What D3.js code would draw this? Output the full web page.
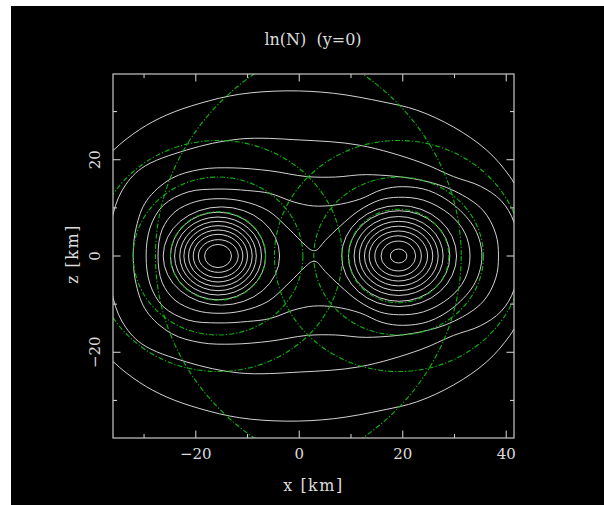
<!DOCTYPE html>
<html>
<head>
<meta charset="utf-8">
<script src="https://cdn.jsdelivr.net/npm/d3@7"></script>
<style>
  body { margin: 0; background: #fff; }
  text { font-family: "DejaVu Serif", "Liberation Serif", serif; fill: #dcdcdc; white-space: pre; }
</style>
</head>
<body>
<div id="chart"></div>
<script>
// axis ticks (km)
const xMajor = [-20, 0, 20, 40];
const xMinor = [-30, -10, 10, 30];
const zMajor = [-20, 0, 20];
const zMinor = [-30, -10, 10, 30];

// star centres on the x axis (km), z = 0
const starX = [-15.7, 19.2];

// closed rings round each star: distance to the outer side, inner side, and top (km)
const leftRingOut = [2.6, 3.8, 4.8, 5.7, 6.6, 7.4, 8.4, 9.2, 10.6];
const leftRingIn  = [2.6, 3.9, 4.8, 5.7, 6.6, 7.4, 8.4, 9.2, 11.9];
const leftRingTop = [2.4, 3.4, 4.5, 5.4, 6.3, 7.2, 8.1, 9.1, 10.2];
const rightRingIn  = [1.6, 3.4, 4.6, 5.7, 6.6, 7.6, 8.6, 9.7, 11.0];
const rightRingOut = [1.6, 3.3, 4.4, 5.6, 6.6, 7.65, 8.6, 9.9, 11.2];
const rightRingTop = [1.45, 3.1, 4.2, 5.2, 6.2, 7.2, 8.2, 9.4, 10.5];

// contours around both stars, upper half (x, z) in km, mirrored below
const contour1 = [[-44, 0], [-42.5, 11], [-39.5, 17.5], [-35.9, 22], [-30.8, 26.3], [-25.6, 29.3],
  [-19.2, 31.7], [-11.5, 33.6], [-2.4, 34.3], [6.6, 33.8], [16.2, 32.0], [22.7, 30.3],
  [29.8, 26.8], [36.2, 22.0], [40.7, 16.5], [44, 10], [45.5, 0]];
const contour2 = [[-37, 0], [-36.3, 7.3], [-34.3, 13.5], [-30.5, 18.2], [-21.8, 22.0], [-11.5, 24.3],
  [0.1, 24.1], [11.7, 23.0], [23.3, 19.5], [29.8, 16.5], [35, 14.5], [39, 11.5], [41.5, 7], [42.3, 0]];
const contour3 = [[-32.1, 0], [-31.5, 6], [-29.5, 11.5], [-24.7, 16.1], [-19, 18], [-12.8, 18.3],
  [-5.7, 17.7], [1.4, 16.5], [7, 16.4], [13, 16.9], [23.3, 15.8], [30, 13.5], [35.5, 9.5],
  [38, 4.5], [38.5, 0]];
const contour4 = [[-29.6, 0], [-28.8, 6], [-26.3, 10.5], [-21.5, 13.3], [-15.7, 13.9], [-10, 13.6],
  [-5.7, 13.0], [-1, 11.2], [2.7, 10.4], [7, 10.6], [11.7, 11.8], [16, 13.8], [20, 14.4],
  [25, 13.6], [30, 10.5], [34, 5.5], [35.3, 0]];
const contour5 = [[-27.3, 0], [-26.5, 5.5], [-24, 9.2], [-20, 11.3], [-15.7, 11.9], [-11, 11.4],
  [-6, 9.4], [-2, 5.6], [1.2, 2.2], [2.4, 1.2], [3.3, 1.2], [5, 3.2], [7.9, 6.2], [11.5, 9.4],
  [15.5, 11.6], [19.2, 12.2], [24, 11.6], [29, 8.7], [32, 4.8], [33, 0]];
const contours = [contour1, contour2, contour3, contour4, contour5];

// dash-dot circles round each star (km)
const leftCircleR = [9.2, 16.4, 24, 47];
const rightCircleR = [9.7, 16.4, 24, 47];

const width = 604, height = 505;
const plot = { left: 113, right: 514, top: 74, bottom: 438 };

const svg = d3.select("#chart").append("svg")
    .attr("width", width)
    .attr("height", height);

svg.append("rect")
    .attr("x", 11).attr("y", 6)
    .attr("width", width - 11).attr("height", height - 6)
    .attr("fill", "#000");

const x = d3.scaleLinear().domain([-36, 41.5]).range([plot.left, plot.right]);
const z = d3.scaleLinear().domain([-37.8, 37.8]).range([plot.bottom, plot.top]);

svg.append("clipPath").attr("id", "clip")
    .append("rect")
    .attr("x", plot.left).attr("y", plot.top)
    .attr("width", plot.right - plot.left).attr("height", plot.bottom - plot.top);

const g = svg.append("g").attr("clip-path", "url(#clip)");

// rings
function ringData(cx, outer, inner, top, sign) {
    return outer.map((o, i) => ({
        c: cx + sign * (inner[i] - o) / 2,
        rx: (inner[i] + o) / 2,
        rz: top[i]
    }));
}
const rings = ringData(starX[0], leftRingOut, leftRingIn, leftRingTop, 1)
    .concat(ringData(starX[1], rightRingOut, rightRingIn, rightRingTop, -1));

const lineColor = "#d2d2d2";

g.selectAll("ellipse.ring")
    .data(rings)
    .enter().append("ellipse")
    .attr("class", "ring")
    .attr("cx", d => x(d.c))
    .attr("cy", z(0))
    .attr("rx", d => x(d.rx) - x(0))
    .attr("ry", d => z(0) - z(d.rz))
    .attr("fill", "none")
    .attr("stroke", lineColor)
    .attr("stroke-width", 1);

const line = d3.line()
    .x(d => x(d[0]))
    .y(d => z(d[1]))
    .curve(d3.curveCatmullRomClosed.alpha(0.5));

g.selectAll("path.contour")
    .data(contours)
    .enter().append("path")
    .attr("class", "contour")
    .attr("d", c => line(c.concat(c.slice(1, -1).reverse().map(p => [p[0], -p[1]]))))
    .attr("fill", "none")
    .attr("stroke", lineColor)
    .attr("stroke-width", 1);

const circles = leftCircleR.map(r => ({ c: starX[0], r }))
    .concat(rightCircleR.map(r => ({ c: starX[1], r })));

g.selectAll("ellipse.circle")
    .data(circles)
    .enter().append("ellipse")
    .attr("class", "circle")
    .attr("cx", d => x(d.c))
    .attr("cy", z(0))
    .attr("rx", d => x(d.r) - x(0))
    .attr("ry", d => z(0) - z(d.r))
    .attr("fill", "none")
    .attr("stroke", "#0db40d")
    .attr("stroke-width", 1.1)
    .attr("stroke-dasharray", "5,2,1.2,2");

// frame and ticks
const axisColor = "#c8c8c8";
svg.append("rect")
    .attr("x", plot.left).attr("y", plot.top)
    .attr("width", plot.right - plot.left).attr("height", plot.bottom - plot.top)
    .attr("fill", "none")
    .attr("stroke", axisColor)
    .attr("stroke-width", 1.2);

const ticks = svg.append("g").attr("stroke", axisColor).attr("stroke-width", 1.1);
function xTick(v, len) {
    ticks.append("line").attr("x1", x(v)).attr("x2", x(v)).attr("y1", plot.bottom).attr("y2", plot.bottom - len);
    ticks.append("line").attr("x1", x(v)).attr("x2", x(v)).attr("y1", plot.top).attr("y2", plot.top + len);
}
function zTick(v, len) {
    ticks.append("line").attr("y1", z(v)).attr("y2", z(v)).attr("x1", plot.left).attr("x2", plot.left + len);
    ticks.append("line").attr("y1", z(v)).attr("y2", z(v)).attr("x1", plot.right).attr("x2", plot.right - len);
}
xMajor.forEach(v => xTick(v, 7.5));
xMinor.forEach(v => xTick(v, 4));
zMajor.forEach(v => zTick(v, 7.5));
zMinor.forEach(v => zTick(v, 4));

const fmt = v => v < 0 ? "\u2212" + Math.abs(v) : String(v);

svg.selectAll("text.xlab")
    .data(xMajor)
    .enter().append("text")
    .attr("class", "xlab")
    .attr("x", d => x(d))
    .attr("y", 458.5)
    .attr("text-anchor", "middle")
    .attr("font-size", 15)
    .text(fmt);

svg.selectAll("text.zlab")
    .data(zMajor)
    .enter().append("text")
    .attr("class", "zlab")
    .attr("transform", d => `translate(100,${z(d)}) rotate(-90)`)
    .attr("text-anchor", "middle")
    .attr("font-size", 15)
    .text(fmt);

svg.append("text")
    .attr("x", (plot.left + plot.right) / 2)
    .attr("y", 490.5)
    .attr("text-anchor", "middle")
    .attr("font-size", 16)
    .attr("letter-spacing", 1.5)
    .text("x [km]");

svg.append("text")
    .attr("transform", `translate(78,${z(0) - 2}) rotate(-90)`)
    .attr("text-anchor", "middle")
    .attr("font-size", 16)
    .attr("letter-spacing", 1.5)
    .text("z [km]");

svg.append("text")
    .attr("x", 313)
    .attr("y", 45)
    .attr("text-anchor", "middle")
    .attr("font-size", 16)
    .text("ln(N)  (y=0)");
</script>
</body>
</html>
